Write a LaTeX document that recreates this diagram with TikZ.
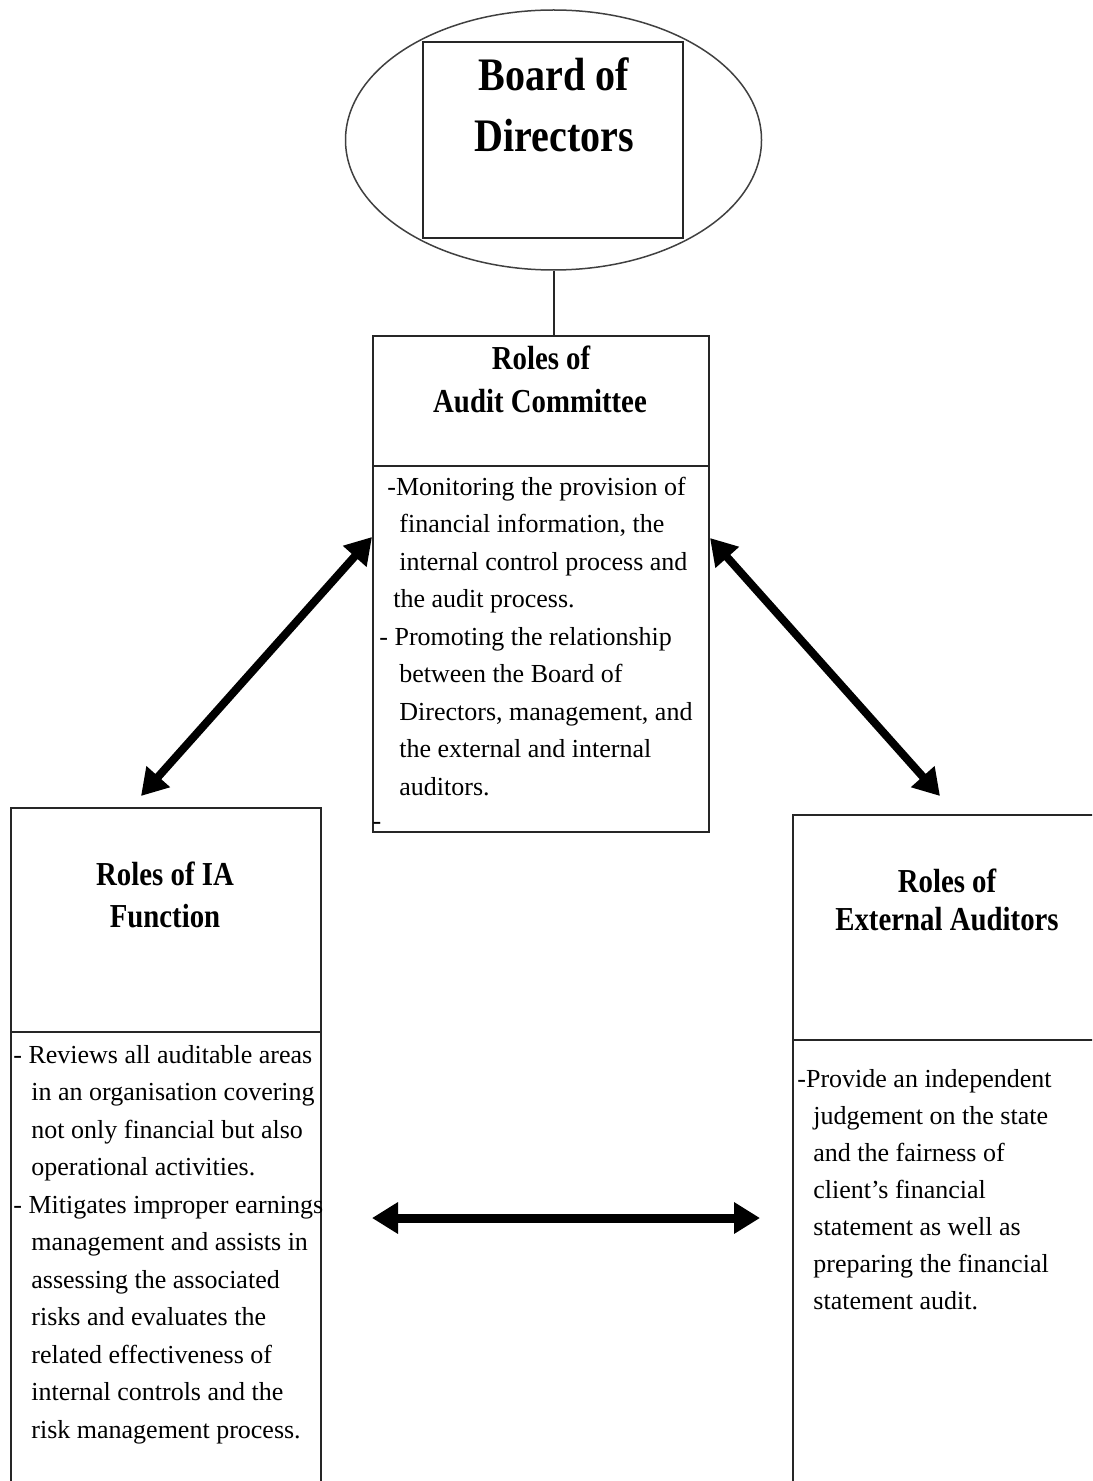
\documentclass[tikz,border=0pt]{standalone}
\usepackage{fontspec}
\setmainfont{Liberation Serif}
\newfontfamily\ttlfont[FakeStretch=0.86]{Liberation Serif}
\usetikzlibrary{arrows.meta,shapes.geometric}
\begin{document}
\begin{tikzpicture}[x=0.5pt,y=-0.5pt,
  box/.style={draw=black!85,line width=1pt,rectangle,inner sep=0pt,outer sep=0pt},
  divline/.style={draw=black!85,line width=1pt},
  bigtitle/.style={font=\ttlfont\bfseries\fontsize{23.3}{28}\selectfont,inner sep=0pt,anchor=base},
  ttl/.style={font=\ttlfont\bfseries\fontsize{16.75}{20}\selectfont,inner sep=0pt,anchor=base},
  body/.style={font=\fontsize{13}{18.75}\selectfont,align=left,inner sep=0pt,anchor=base west},
  dblarrow/.style={line width=4pt,{Triangle[length=13pt,width=15pt]}-{Triangle[length=13pt,width=15pt]}},
]
\useasboundingbox (0,0) rectangle (1092,1481);
\clip (0,0) rectangle (1092,1481);

% Board of Directors
\node[ellipse,draw=black!75,line width=0.75pt,minimum width=208pt,minimum height=130pt,inner sep=0pt] (ell) at (553.5,140) {};
\node[box,minimum width=130pt,minimum height=98pt] (bod) at (553,140) {};
\node[bigtitle] (bod1) at (554,91) {Board of};
\node[bigtitle] (bod2) at (554,152) {Directors};

% Audit Committee
\node[box,anchor=north west,minimum width=168pt,minimum height=248pt] (ac) at (373,336) {};
\draw[divline] ([yshift=-65pt]ac.north west) -- ([yshift=-65pt]ac.north east);
\node[ttl] (ac1) at (541,369) {Roles of};
\node[ttl] (ac2) at (540,412) {Audit Committee};
% anchor base = baseline of the last line
\node[body] (acb) at (379,795) {\hspace*{4pt}-Monitoring the provision of\\
\hspace*{10pt}financial information, the\\
\hspace*{10pt}internal control process and\\
\hspace*{7pt}the audit process.\\
- Promoting the relationship\\
\hspace*{10pt}between the Board of\\
\hspace*{10pt}Directors, management, and\\
\hspace*{10pt}the external and internal\\
\hspace*{10pt}auditors.};
\node[font=\fontsize{13}{15}\selectfont,inner sep=0pt] (stray) at (377,826) {-};

\draw[line width=1pt,draw=black!85] (ell.south) -- (ell.south |- ac.north);

% IA Function
\node[box,anchor=north west,minimum width=155pt,minimum height=350pt] (ia) at (11,808) {};
\draw[divline] ([yshift=-112pt]ia.north west) -- ([yshift=-112pt]ia.north east);
\node[ttl] (ia1) at (165,885) {Roles of IA};
\node[ttl] (ia2) at (165,927) {Function};
\node[body] (iab) at (13,1438) {- Reviews all auditable areas\\
\hspace*{9pt}in an organisation covering\\
\hspace*{9pt}not only financial but also\\
\hspace*{9pt}operational activities.\\
- Mitigates improper earnings\\
\hspace*{9pt}management and assists in\\
\hspace*{9pt}assessing the associated\\
\hspace*{9pt}risks and evaluates the\\
\hspace*{9pt}related effectiveness of\\
\hspace*{9pt}internal controls and the\\
\hspace*{9pt}risk management process.};

% External Auditors
\node[box,anchor=north west,minimum width=160pt,minimum height=350pt] (ea) at (793,815) {};
\draw[divline] ([yshift=-112.5pt]ea.north west) -- ([yshift=-112.5pt]ea.north east);
\node[ttl] (ea1) at (947,892) {Roles of};
\node[ttl] (ea2) at (947,930) {External Auditors};
\node[body,font=\fontsize{13}{18.5}\selectfont] (eab) at (797,1309) {-Provide an independent\\
\hspace*{8pt}judgement on the state\\
\hspace*{8pt}and the fairness of\\
\hspace*{8pt}client’s financial\\
\hspace*{8pt}statement as well as\\
\hspace*{8pt}preparing the financial\\
\hspace*{8pt}statement audit.};

% Arrows
\coordinate (la1) at (141,796);
\coordinate (la2) at (372,537);
\coordinate (ra1) at (710,538);
\coordinate (ra2) at (940,796);
\coordinate (ha1) at (372,1218);
\coordinate (ha2) at (760,1218);
\draw[dblarrow] (la1) -- (la2);
\draw[dblarrow] (ra1) -- (ra2);
\draw[dblarrow,line width=4.5pt] (ha1) -- (ha2);
\end{tikzpicture}
\end{document}
